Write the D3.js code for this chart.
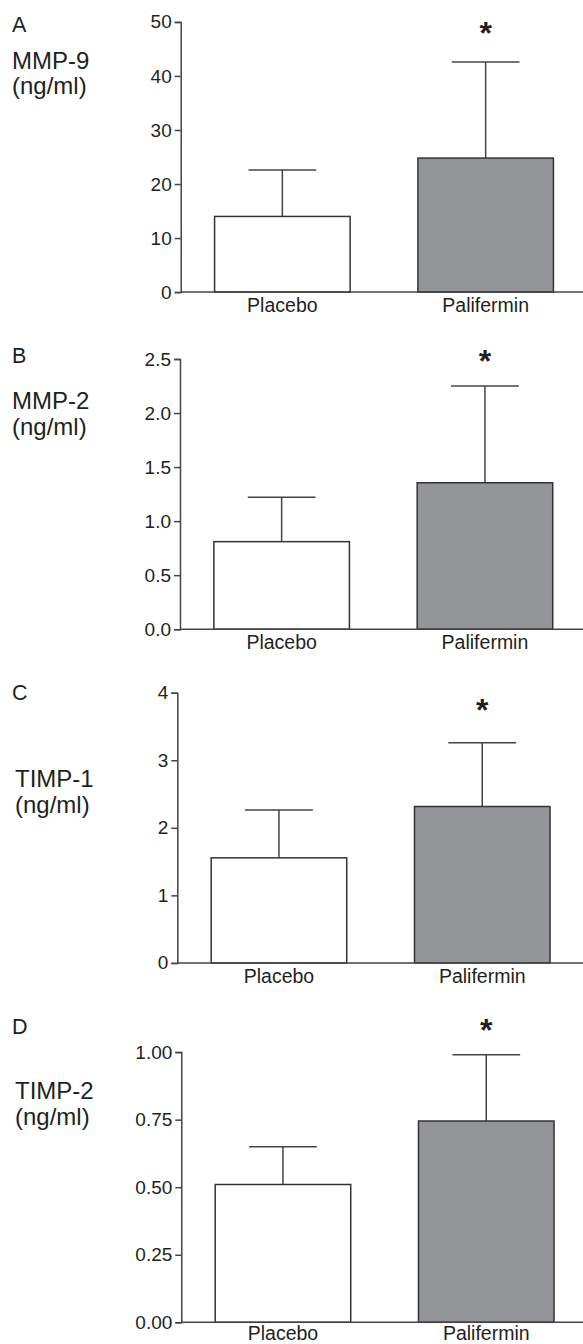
<!DOCTYPE html>
<html>
<head>
<meta charset="utf-8">
<script src="https://d3js.org/d3.v7.min.js"></script>
<style>
  body { margin: 0; background: #fff; }
  svg { display: block; font-family: "Liberation Sans", Arial, sans-serif; }
</style>
</head>
<body>
<script>
// data
var groups = ["Placebo", "Palifermin"];
var panelLetters = ["A", "B", "C", "D"];
var markers = ["MMP-9", "MMP-2", "TIMP-1", "TIMP-2"];
var unitLabel = "(ng/ml)";
var means = [[14.0, 24.8], [0.81, 1.355], [1.555, 2.315], [0.51, 0.745]];
var errTop = [[22.6, 42.6], [1.22, 2.25], [2.265, 3.26], [0.65, 0.99]];
var yMax = [50, 2.5, 4, 1.0];
var yStep = [10, 0.5, 1, 0.25];
var tickFormats = ["d", ".1f", "d", ".2f"];
var significant = [false, true];
var starLevel = [48.8, 2.53, 3.82, 1.10];

var width = 583, height = 1344, plotH = 270.2;

// layout per panel
var layout = [
  {top: 21.9, axisX: 180.7, letterY: 32, nameY: 69, unitY: 94, nameX: 12, pad: 6},
  {top: 359, axisX: 180, letterY: 363, nameY: 409, unitY: 435, nameX: 12, pad: 6},
  {top: 692.7, axisX: 177.3, letterY: 700, nameY: 787, unitY: 813, nameX: 15, pad: 6},
  {top: 1052.1, axisX: 181.3, letterY: 1034, nameY: 1099, unitY: 1125, nameX: 15, pad: 4}
];
var barFill = ["#ffffff", "#949598"];
var ink = "#231f20", lineCol = "#444";

var svg = d3.select("body").append("svg")
    .attr("width", width)
    .attr("height", height);

panelLetters.forEach(function(letter, i) {
  var L = layout[i];
  var g = svg.append("g");

  var y = d3.scaleLinear().domain([0, yMax[i]]).range([L.top + plotH, L.top]);
  var x = d3.scaleBand().domain(groups)
      .range([L.axisX, L.axisX + 406.6])
      .paddingInner(1 / 3).paddingOuter(1 / 6);

  // left labels
  g.append("text").attr("x", 12).attr("y", L.letterY)
    .attr("font-size", 21.5).attr("fill", ink).text(letter);
  g.append("text").attr("x", L.nameX).attr("y", L.nameY)
    .attr("font-size", 24).attr("fill", ink).text(markers[i]);
  g.append("text").attr("x", L.nameX).attr("y", L.unitY)
    .attr("font-size", 24).attr("fill", ink).text(unitLabel);

  var rows = groups.map(function(d, j) {
    return {name: d, mean: means[i][j], top: errTop[i][j], j: j};
  });

  // error bars (upper only)
  var err = g.append("g").attr("stroke", lineCol).attr("stroke-width", 1.5);
  err.selectAll(".stem").data(rows).enter().append("line")
    .attr("x1", d => x(d.name) + x.bandwidth() / 2)
    .attr("x2", d => x(d.name) + x.bandwidth() / 2)
    .attr("y1", d => y(d.mean))
    .attr("y2", d => y(d.top));
  err.selectAll(".cap").data(rows).enter().append("line")
    .attr("x1", d => x(d.name) + x.bandwidth() / 4)
    .attr("x2", d => x(d.name) + x.bandwidth() * 3 / 4)
    .attr("y1", d => y(d.top))
    .attr("y2", d => y(d.top));

  // bars
  g.selectAll("rect").data(rows).enter().append("rect")
    .attr("x", d => x(d.name))
    .attr("width", x.bandwidth())
    .attr("y", d => y(d.mean))
    .attr("height", d => y(0) - y(d.mean))
    .attr("fill", d => barFill[d.j])
    .attr("stroke", "#333")
    .attr("stroke-width", 1.5);

  // y axis
  var yAxis = g.append("g")
    .attr("transform", "translate(" + L.axisX + ",0)")
    .call(d3.axisLeft(y)
      .tickValues(d3.range(0, yMax[i] + yStep[i] / 2, yStep[i]))
      .tickFormat(d3.format(tickFormats[i]))
      .tickSizeOuter(0).tickSize(6).tickPadding(3));
  yAxis.selectAll("text").attr("font-size", 19).attr("fill", ink)
    .attr("font-family", "Liberation Sans, Arial, sans-serif");
  yAxis.selectAll("line, path").attr("stroke", lineCol).attr("stroke-width", 1.5);

  // x axis
  var xAxis = g.append("g")
    .attr("transform", "translate(0," + y(0) + ")")
    .call(d3.axisBottom(x).tickSize(0).tickPadding(L.pad));
  xAxis.select(".domain").attr("d", "M" + L.axisX + ",0H" + width)
    .attr("stroke", lineCol).attr("stroke-width", 1.5);
  xAxis.selectAll("text").attr("font-size", 19.5).attr("fill", ink)
    .attr("font-family", "Liberation Sans, Arial, sans-serif");

  // significance asterisk
  g.selectAll(".star").data(rows.filter(d => significant[d.j])).enter()
    .append("text")
    .attr("x", d => x(d.name) + x.bandwidth() / 2)
    .attr("y", y(starLevel[i]) + 16)
    .attr("text-anchor", "middle")
    .attr("font-size", 32)
    .attr("font-weight", "bold")
    .attr("fill", ink)
    .text("*");
});
</script>
</body>
</html>
